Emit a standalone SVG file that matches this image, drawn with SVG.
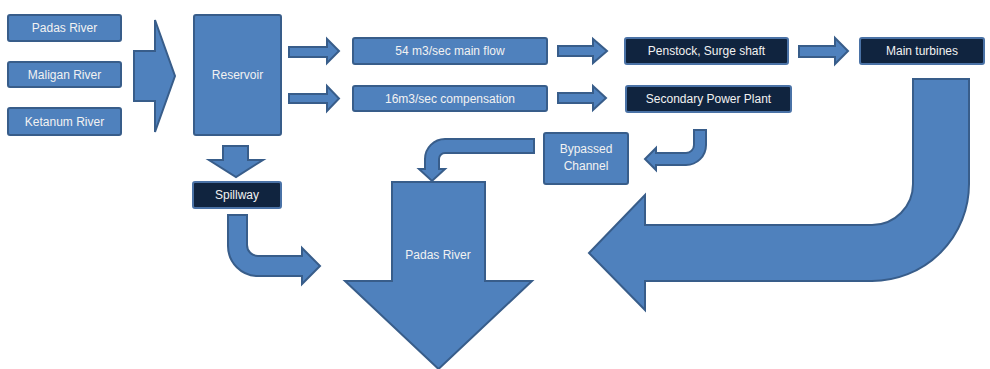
<svg xmlns="http://www.w3.org/2000/svg" width="990" height="369" viewBox="0 0 990 369">
<style>
.bg{fill:#ffffff}
.blue{fill:#4F81BD;stroke:#385D8A;stroke-width:2}
.dark{fill:#10243F;stroke:#4A72A6;stroke-width:2}
.arr{fill:#4F81BD;stroke:#385D8A;stroke-width:2;stroke-linejoin:miter}
text{font-family:"Liberation Sans",Arial,sans-serif;font-size:12px;fill:#F2F2F2;text-anchor:middle}
</style>
<rect class="bg" x="0" y="0" width="990" height="369"/>
<g id="connectors">
<path class="arr" d="M134,51 H155 V20 L175,76 L155,132 V101 H134 Z"/>
<path class="arr" d="M289,47 H327 V39 L339,51 L327,63 V57 H289 Z"/>
<path class="arr" d="M289,94 H327 V86 L339,98.5 L327,111 V103 H289 Z"/>
<path class="arr" d="M558,46 H593 V39 L607,51 L593,63 V56 H558 Z"/>
<path class="arr" d="M558,93 H593 V86 L606,98 L593,110 V103 H558 Z"/>
<path class="arr" d="M799,46 H835 V38 L848,51 L835,64 V57 H799 Z"/>
<path class="arr" d="M223,146 H248 V160 H263 L236,177 L209,160 H223 Z"/>
<path class="arr" d="M228,215 H247 V245 A11,11 0 0 0 258,256 H302 V248 L320,266 L302,284 V276 H258 A30,30 0 0 1 228,246 Z"/>
<path class="arr" d="M534,139 V153 H445 A6,6 0 0 0 439,159 V169 H445 L432,181 L419,169 H425 V159 A20,20 0 0 1 445,139 Z"/>
<path class="arr" d="M694,130 H706 V145 A20,20 0 0 1 686,165 H656 V170 L645,159 L656,148 V153 H686 A8,8 0 0 0 694,145 Z"/>
<path class="arr" d="M913,79 H969 V184 A97,97 0 0 1 872,281 H645 V310 L589,253 L645,195 V225 H872 A41,41 0 0 0 913,184 Z"/>
</g>
<g id="padas-in"><rect class="blue" x="8" y="15" width="113" height="26" rx="2"/><text x="64.5" y="32">Padas River</text></g>
<g id="maligan"><rect class="blue" x="8" y="62" width="113" height="25" rx="2"/><text x="64.5" y="78.5">Maligan River</text></g>
<g id="ketanum"><rect class="blue" x="8" y="108" width="113" height="27" rx="2"/><text x="64.5" y="125.5">Ketanum River</text></g>
<g id="reservoir"><rect class="blue" x="194" y="15" width="87" height="120" rx="2"/><text x="237.5" y="79">Reservoir</text></g>
<g id="mainflow"><rect class="blue" x="353" y="38" width="194" height="26" rx="2"/><text x="450" y="55">54 m3/sec main flow</text></g>
<g id="compensation"><rect class="blue" x="353" y="86" width="194" height="25" rx="2"/><text x="450" y="102.5">16m3/sec compensation</text></g>
<g id="penstock"><rect class="dark" x="625" y="38" width="163" height="26" rx="2"/><text x="706.5" y="55">Penstock, Surge shaft</text></g>
<g id="turbines"><rect class="dark" x="860" y="38" width="124" height="26" rx="2"/><text x="922" y="55">Main turbines</text></g>
<g id="secondary"><rect class="dark" x="626" y="86" width="165" height="26" rx="2"/><text x="708.5" y="103">Secondary Power Plant</text></g>
<g id="bypassed"><rect class="blue" x="544" y="133" width="84" height="51" rx="2"/><text x="586" y="153">Bypassed</text><text x="586" y="170">Channel</text></g>
<g id="spillway"><rect class="dark" x="193" y="182" width="88" height="26" rx="2"/><text x="237" y="199">Spillway</text></g>
<g id="padas-out"><path class="arr" d="M392,182 H485 V281 H532 L438.5,369 L345,281 H392 Z"/><text x="438" y="259">Padas River</text></g>
</svg>
